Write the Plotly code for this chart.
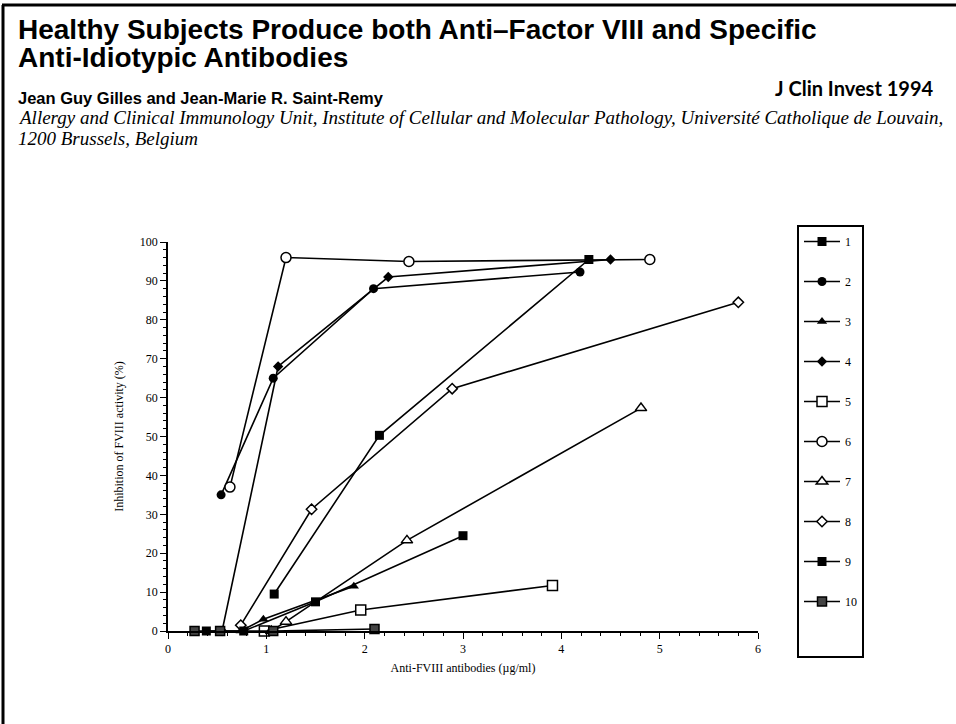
import plotly.graph_objects as go

# ---- data ----
series_names = ["1", "2", "3", "4", "5", "6", "7", "8", "9", "10"]
x1 = [1.08, 2.15, 4.28];            y1 = [9.5, 50.3, 95.5]
x2 = [0.54, 1.07, 2.09, 4.19];      y2 = [35, 65, 88, 92.3]
x3 = [0.74, 0.97, 1.89];            y3 = [0, 3, 11.5]
x4 = [0.55, 1.12, 2.24, 4.5];       y4 = [0, 68, 91, 95.5]
x5 = [0.98, 1.96, 3.91];            y5 = [0, 5.4, 11.7]
x6 = [0.63, 1.2, 2.45, 4.9];        y6 = [37, 96, 95, 95.5]
x7 = [1.05, 1.2, 2.43, 4.81];       y7 = [0, 2.4, 23.3, 57.3]
x8 = [0.74, 1.46, 2.89, 5.8];       y8 = [1.5, 31.3, 62.3, 84.5]
x9 = [0.39, 0.77, 1.5, 3.0];        y9 = [0, 0, 7.5, 24.5]
x10 = [0.27, 0.53, 1.07, 2.1];      y10 = [0, 0, 0, 0.5]

xs = [x1, x2, x3, x4, x5, x6, x7, x8, x9, x10]
ys = [y1, y2, y3, y4, y5, y6, y7, y8, y9, y10]

x_tick_vals = [0, 1, 2, 3, 4, 5, 6]
y_tick_vals = [0, 10, 20, 30, 40, 50, 60, 70, 80, 90, 100]

# ---- styles ----
marker_styles = [
    dict(symbol="square", color="black", size=9),
    dict(symbol="circle", color="black", size=9),
    dict(symbol="triangle-up", color="black", size=9),
    dict(symbol="diamond", color="black", size=8),
    dict(symbol="square", color="white", size=10, line=dict(color="black", width=1.5)),
    dict(symbol="circle", color="white", size=10, line=dict(color="black", width=1.5)),
    dict(symbol="triangle-up", color="white", size=10, line=dict(color="black", width=1.5)),
    dict(symbol="diamond", color="white", size=8, line=dict(color="black", width=1.5)),
    dict(symbol="square", color="black", size=9),
    dict(symbol="square", color="#444444", size=9, line=dict(color="black", width=1.5)),
]

W, H = 956, 724
L, R, T, B = 168, 758, 242, 631


def px(x):
    return (x - L) / (R - L)


def py(y):
    return (B - y) / (B - T)


fig = go.Figure()
for name, xv, yv, ms in zip(series_names, xs, ys, marker_styles):
    fig.add_trace(go.Scatter(
        x=xv, y=yv, name=name, mode="lines+markers",
        line=dict(color="black", width=1.6),
        marker=ms, cliponaxis=False, legendgroup=name,
    ))

# blank legend row that reproduces the empty space at the bottom of the legend box
fig.add_trace(go.Scatter(x=[None], y=[None], name=" ", mode="lines",
                         line=dict(color="rgba(0,0,0,0)"), legendgroup="blank",
                         hoverinfo="skip"))

serif = "Liberation Serif"
sans = "Liberation Sans"

fig.update_layout(
    width=W, height=H,
    margin=dict(l=L, r=W - R, t=T, b=H - B),
    paper_bgcolor="white", plot_bgcolor="white",
    showlegend=True,
    legend=dict(
        x=px(797), y=py(225), xanchor="left", yanchor="top",
        bordercolor="black", borderwidth=2, bgcolor="white",
        font=dict(family=serif, size=12, color="black"),
        tracegroupgap=21, itemwidth=36, maxheight=600,
        entrywidth=40, entrywidthmode="pixels",
    ),
    xaxis=dict(
        range=[0, 6], tickvals=x_tick_vals, showgrid=False, zeroline=False,
        showline=True, linecolor="black", linewidth=1.5,
        ticks="outside", ticklen=6, tickcolor="black", tickwidth=1.2,
        minor=dict(dtick=0.2, ticks="outside", ticklen=3, tickcolor="black"),
        tickfont=dict(family=serif, size=12, color="black"),
        title=dict(text="Anti-FVIII antibodies (µg/ml)", font=dict(family=serif, size=12, color="black"), standoff=8),
    ),
    yaxis=dict(
        range=[0, 100], tickvals=y_tick_vals, showgrid=False, zeroline=False,
        showline=True, linecolor="black", linewidth=1.5,
        ticks="outside", ticklen=6, tickcolor="black", tickwidth=1.2,
        minor=dict(dtick=2, ticks="outside", ticklen=3, tickcolor="black"),
        tickfont=dict(family=serif, size=12, color="black"),
        title=dict(text="Inhibition of FVIII activity (%)", font=dict(family=serif, size=12, color="black"), standoff=14),
    ),
)

anns = [
    dict(text="<b>Healthy Subjects Produce both Anti\u2013Factor VIII and Specific</b>", x=px(16), y=py(29),
         font=dict(family=sans, size=28, color="black")),
    dict(text="<b>Anti-Idiotypic Antibodies</b>", x=px(16), y=py(57),
         font=dict(family=sans, size=28, color="black")),
    dict(text="<b>J Clin Invest 1994</b>", x=px(773), y=py(88),
         font=dict(family="Lato", size=20, color="black")),
    dict(text="<b>Jean Guy Gilles and Jean-Marie R. Saint-Remy</b>", x=px(16), y=py(98),
         font=dict(family=sans, size=16.5, color="black")),
    dict(text="<i>Allergy and Clinical Immunology Unit, Institute of Cellular and Molecular Pathology, Université Catholique de Louvain,</i>",
         x=px(16), y=py(118), font=dict(family=serif, size=19, color="black")),
    dict(text="<i>1200 Brussels, Belgium</i>", x=px(16), y=py(139),
         font=dict(family=serif, size=19, color="black")),
]
for a in anns:
    fig.add_annotation(xref="paper", yref="paper", xanchor="left", yanchor="middle",
                       showarrow=False, **a)

# slide frame
fig.add_shape(type="line", xref="paper", yref="paper",
              x0=px(3), y0=py(730), x1=px(3), y1=py(5),
              line=dict(color="black", width=3))
fig.add_shape(type="line", xref="paper", yref="paper",
              x0=px(2), y0=py(5), x1=px(960), y1=py(5),
              line=dict(color="black", width=3))

fig.write_html("out.html", config={"displayModeBar": False},
               post_script="document.body.style.margin='0';document.body.style.overflow='hidden';")
